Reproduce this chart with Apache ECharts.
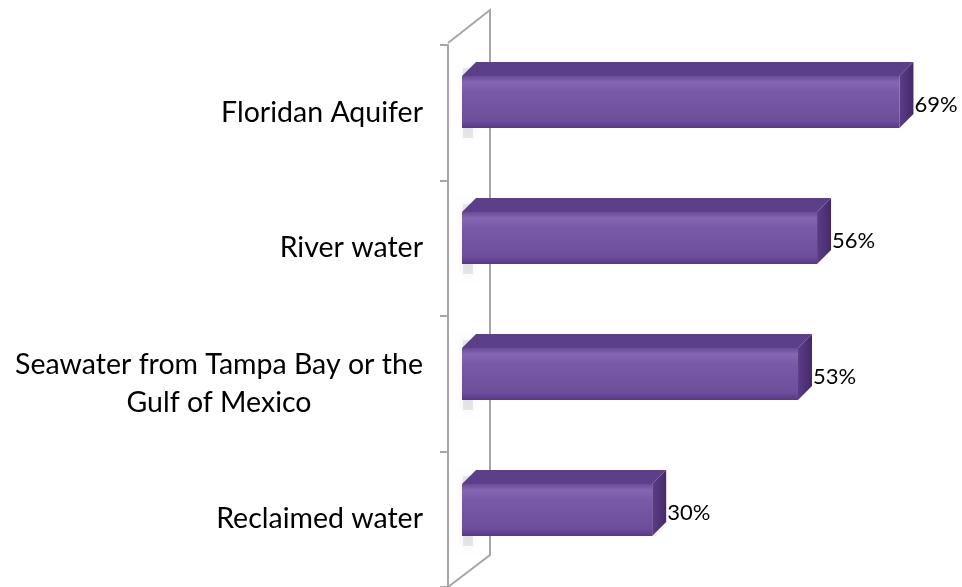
<!DOCTYPE html>
<html>
<head>
<meta charset="utf-8">
<script src="https://cdn.jsdelivr.net/npm/echarts@6/dist/echarts.min.js"></script>
<style>
  html, body { margin: 0; padding: 0; background: #fff; }
  #chart { width: 962px; height: 587px; }
</style>
</head>
<body>
<div id="chart"></div>
<script>
// data
var categories = ["Floridan Aquifer", "River water", "Seawater from Tampa Bay or the\nGulf of Mexico", "Reclaimed water"];
var percents = [69, 56, 53, 30];

var FONT = "Lato";

// 3D box bar: front face + top face + right side, through the axis scale
function renderBar(params, api) {
  var cat = api.value(1);
  var v = api.value(0);
  var p0 = api.coord([0, cat]);
  var p1 = api.coord([v, cat]);
  var h = 52, dx = 14, dy = -14;
  var x0 = p0[0], x1 = p1[0];
  var yt = p0[1] - h / 2, yb = p0[1] + h / 2;
  return {
    type: "group",
    children: [
      // soft shadow on the wall
      {
        type: "rect",
        shape: { x: x0 + 1, y: yt - 8, width: 10, height: h + 18 },
        style: { fill: "rgba(160,160,160,0.22)", shadowBlur: 8, shadowColor: "rgba(0,0,0,0.25)" }
      },
      {
        type: "polygon",
        shape: { points: [[x0, yt], [x0 + dx, yt + dy], [x1 + dx, yt + dy], [x1, yt]] },
        style: { fill: "#5b3f88" }
      },
      {
        type: "polygon",
        shape: { points: [[x1, yt], [x1 + dx, yt + dy], [x1 + dx, yb + dy], [x1, yb]] },
        style: {
          fill: new echarts.graphic.LinearGradient(0, 0, 1, 0, [
            { offset: 0, color: "#5a3d85" },
            { offset: 1, color: "#46296c" }
          ])
        }
      },
      {
        type: "rect",
        shape: { x: x0, y: yt, width: x1 - x0, height: h },
        style: {
          fill: new echarts.graphic.LinearGradient(0, 0, 0, 1, [
            { offset: 0, color: "#6a4b98" },
            { offset: 0.12, color: "#8466b3" },
            { offset: 0.3, color: "#785aa8" },
            { offset: 0.85, color: "#6c4e9b" },
            { offset: 1, color: "#58398a" }
          ])
        }
      },
      {
        type: "text",
        style: {
          text: v + "%",
          x: x1 + dx + 1,
          y: p0[1] + 3,
          verticalAlign: "middle",
          fill: "#000",
          font: "22px " + FONT
        }
      }
    ]
  };
}

var chart = echarts.init(document.getElementById("chart"), null, { renderer: "canvas" });

chart.setOption({
  animation: false,
  graphic: [
    {
      type: "polyline",
      z: 0,
      shape: { points: [[448, 43], [490, 10], [490, 555], [448, 587]] },
      style: { stroke: "#a6a6a6", lineWidth: 2, fill: null }
    }
  ],
  grid: [
    { left: 448, top: 45, height: 544, right: 0 },
    { left: 462, top: 34, height: 544, width: 75 * 6.34 }
  ],
  xAxis: [
    { type: "value", gridIndex: 0, show: false, min: 0, max: 100 },
    { type: "value", gridIndex: 1, show: false, min: 0, max: 75 }
  ],
  yAxis: [
    {
      type: "category",
      gridIndex: 0,
      inverse: true,
      data: categories,
      axisLine: { show: true, lineStyle: { color: "#a6a6a6", width: 2 } },
      axisTick: { show: true, length: 8, lineStyle: { color: "#a6a6a6", width: 2 } },
      axisLabel: {
        margin: 25,
        color: "#000",
        fontFamily: FONT,
        fontSize: 28.5,
        lineHeight: 38,
        align: "right",
        // wrapped labels are centred line by line, as in the original
        formatter: function (v) {
          if (v.indexOf("\n") < 0) return v;
          return v.split("\n").map(function (s) { return "{m|" + s + "}"; }).join("\n");
        },
        rich: {
          m: { width: 408, align: "center", fontFamily: FONT, fontSize: 28.5, lineHeight: 38, color: "#000" }
        }
      }
    },
    { type: "category", gridIndex: 1, inverse: true, data: categories, show: false }
  ],
  series: [
    {
      type: "custom",
      xAxisIndex: 1,
      yAxisIndex: 1,
      renderItem: renderBar,
      encode: { x: 0, y: 1 },
      data: percents.map(function (v, i) { return [v, i]; })
    }
  ]
});
</script>
</body>
</html>
